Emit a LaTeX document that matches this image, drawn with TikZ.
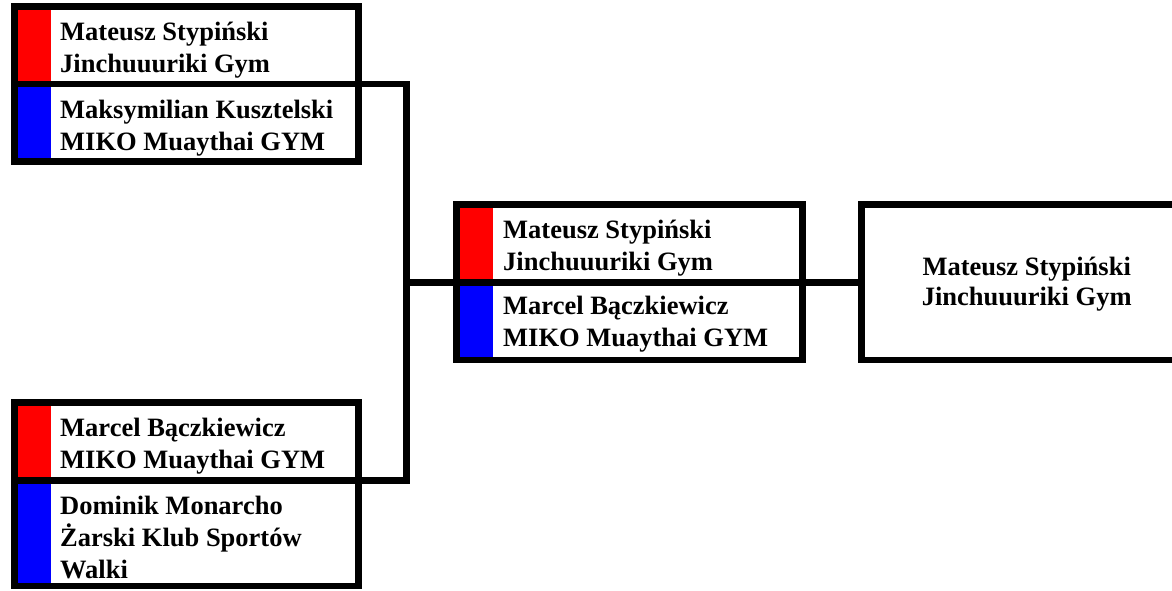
\documentclass[tikz,border=0pt]{standalone}
\usepackage{fontspec}
\setmainfont{Liberation Serif}[BoldFont={Liberation Serif Bold}]
\newfontfamily\lserb{Liberation Serif Bold}
\begin{document}
\begin{tikzpicture}[x=1pt,y=-1pt,
  cell/.style={draw=black, line width=6.6pt, fill=white, inner sep=0pt, outer sep=0pt, anchor=north west, rectangle},
  redcell/.style={cell, path picture={\fill[red] (path picture bounding box.north west) rectangle ([xshift=36.7pt]path picture bounding box.south west);}},
  bluecell/.style={cell, path picture={\fill[blue] (path picture bounding box.north west) rectangle ([xshift=36.7pt]path picture bounding box.south west);}},
  txt/.style={anchor=base west, inner sep=0pt, font=\fontsize{26.5pt}{32pt}\selectfont\lserb},
  conn/.style={draw=black, line width=6.6pt, line join=miter}]
\useasboundingbox (0,0) rectangle (1172,590);
\clip (0,0) rectangle (1172,590);
% first round, top pair
\node[redcell, minimum width=344pt, minimum height=77.3pt] (a1) at (14.35,6.65) {};
\node[bluecell, minimum width=344pt, minimum height=77.7pt] (a2) at (14.35,83.95) {};
% first round, bottom pair
\node[redcell, minimum width=344pt, minimum height=77.6pt] (b1) at (14.35,402.6) {};
\node[bluecell, minimum width=344pt, minimum height=105.8pt] (b2) at (14.35,480.2) {};
% final pair
\node[redcell, minimum width=346pt, minimum height=78.4pt] (m1) at (456.7,204.3) {};
\node[bluecell, minimum width=346pt, minimum height=77.3pt] (m2) at (456.7,282.7) {};
% winner
\node[cell, minimum width=330pt, minimum height=155.5pt] (f) at (861.7,204.5) {};
% connectors
\coordinate (j) at (406.3,282.7);
\draw[conn] (a1.south east) -| (j) |- (b1.south east);
\draw[conn] (j) -- (m1.south west);
\draw[conn] (m1.south east) -- (m1.south east -| f.west);
% texts
\node[txt] (ta1) at (60,40.7) {Mateusz Stypiński};
\node[txt] (ta1c) at (60,72.7) {Jinchuuuriki Gym};
\node[txt] (ta2) at (60,118.3) {Maksymilian Kusztelski};
\node[txt] (ta2c) at (60,150) {MIKO Muaythai GYM};
\node[txt] (tb1) at (60,436.7) {Marcel Bączkiewicz};
\node[txt] (tb1c) at (60,468.3) {MIKO Muaythai GYM};
\node[txt] (tb2) at (60,514) {Dominik Monarcho};
\node[txt] (tb2c) at (60,546.3) {Żarski Klub Sportów};
\node[txt] (tb2d) at (60,578) {Walki};
\node[txt] (tm1) at (503,238.3) {Mateusz Stypiński};
\node[txt] (tm1c) at (503,270) {Jinchuuuriki Gym};
\node[txt] (tm2) at (503,314) {Marcel Bączkiewicz};
\node[txt] (tm2c) at (503,346) {MIKO Muaythai GYM};
\node[txt, anchor=base] (tf1) at (1026.7,275) {Mateusz Stypiński};
\node[txt, anchor=base] (tf2) at (1026.7,305.7) {Jinchuuuriki Gym};
\end{tikzpicture}
\end{document}
